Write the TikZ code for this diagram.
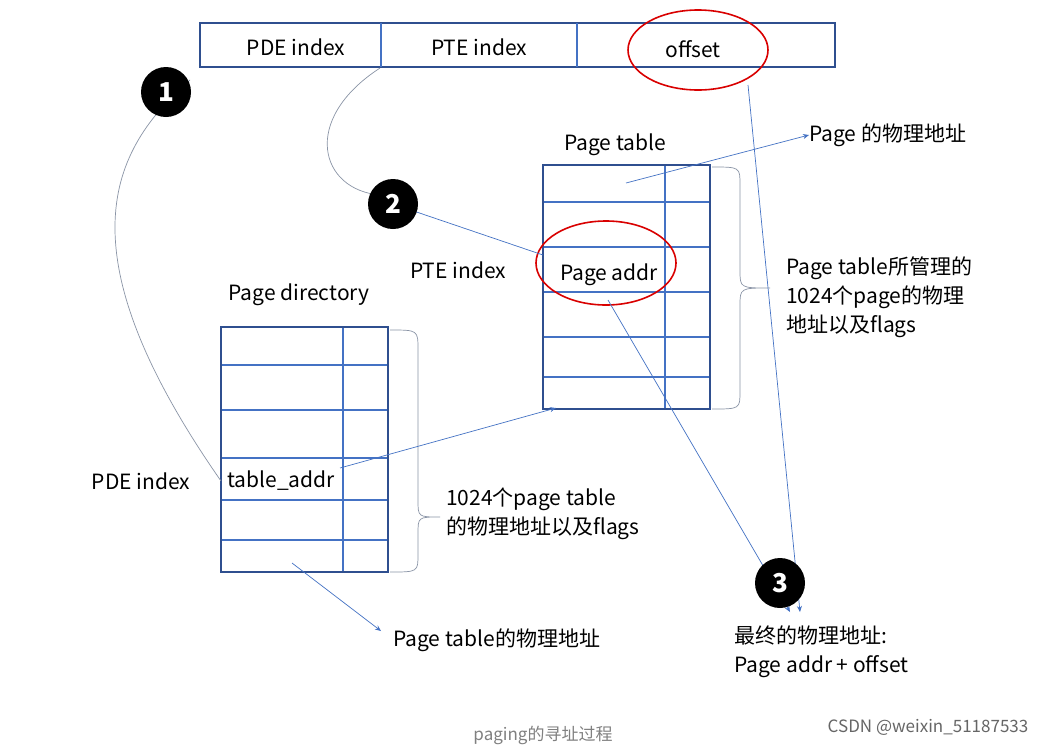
\documentclass[tikz,border=0pt]{standalone}
\usepackage{fontspec}
\setmainfont{Noto Sans CJK SC}
\usetikzlibrary{arrows.meta}
\definecolor{dk}{HTML}{2F4F8F}
\definecolor{lb}{HTML}{4472C4}
\definecolor{gl}{HTML}{8A94A6}
\tikzset{
 lbl/.style={font=\fontsize{21}{29}\selectfont,inner sep=0pt},
 lbll/.style={lbl,anchor=west,align=left},
 circ/.style={circle,fill=black,text=white,minimum size=50pt,inner sep=0pt,font=\fontsize{26}{26}\selectfont\bfseries},
 conn/.style={lb,line width=0.7pt},
 arr/.style={conn,-{Stealth[length=6pt,width=5pt]}},
 redell/.style={red!85!black,line width=1.6pt},
 brc/.style={gl,line width=0.7pt}
}
\begin{document}
\begin{tikzpicture}[x=1pt,y=-1pt]
\useasboundingbox (0,0) rectangle (1059,747);
\fill[white] (0,0) rectangle (1059,747);
% top bar
\draw[dk,line width=1.6pt] (200,23) rectangle (835,67);
\draw[lb,line width=1.2pt] (381,23)--(381,67) (577,23)--(577,67);
\node[lbl] (pde) at (296,47) {PDE index};
\node[lbl] (pte) at (479,47) {PTE index};
\node[lbl] (off) at (693,49) {offset};
\draw[redell] (698,50) ellipse (70 and 40);
% page table
\foreach \y in {202,247,292,337,377} \draw[lb,line width=1.2pt] (543,\y)--(710,\y);
\draw[lb,line width=1.2pt] (665,165)--(665,409);
\draw[dk,line width=1.8pt] (543,165) rectangle (710,409);
\node[lbl] (ptl) at (615,145) {Page table};
\node[lbl] (paddr) at (609,275) {Page addr};
\draw[redell] (606,263) ellipse (70 and 42);
% page directory
\foreach \y in {365,410,458,500,540} \draw[lb,line width=1.2pt] (221,\y)--(388,\y);
\draw[lb,line width=1.2pt] (343,327)--(343,572);
\draw[dk,line width=1.8pt] (221,327) rectangle (388,572);
\node[lbl] (pdl) at (299,295) {Page directory};
\node[lbl] (taddr) at (281,481) {table\_addr};
\node[lbl] (pdei) at (141,481) {PDE index};
\node[lbl] (ptei) at (458,270) {PTE index};
% braces
\draw[brc] (712,167) .. controls (740,167) .. (740,185) -- (740,270) .. controls (740,288) .. (770,288) .. controls (740,288) .. (740,306) -- (740,391) .. controls (740,409) .. (712,409);
\draw[brc] (390,330) .. controls (418,330) .. (418,350) -- (418,500) .. controls (418,517) .. (440,517) .. controls (418,517) .. (418,534) -- (418,554) .. controls (418,572) .. (390,572);
% texts
\node[lbll] (t1) at (786,297) {Page table所管理的\\1024个page的物理\\地址以及flags};
\node[lbll] (t2) at (446,514) {1024个page table\\的物理地址以及flags};
\node[lbll] (t3) at (809,135) {Page 的物理地址};
\node[lbll] (t4) at (393,640) {Page table的物理地址};
\node[lbll] (t5) at (734,652) {最终的物理地址:\\Page addr + offset};
\node[lbl,text=gray,font=\fontsize{17}{20}\selectfont] (cap) at (543,735) {paging的寻址过程};
\node[lbl,text=gray!80!black,font=\fontsize{17}{20}\selectfont] (csdn) at (928,727) {CSDN @weixin\_51187533};
% connectors
\coordinate (a1) at (190,80);
\coordinate (a2) at (221,481);
\draw[gl,line width=0.7pt] (a1) .. controls (110,150) and (60,250) .. (a2);
\draw[gl,line width=0.7pt] (380,68) .. controls (300,120) and (320,190) .. (380,195);
\draw[conn] (393,204) -- (543,255);
\coordinate (p1) at (626,183);
\draw[arr] (p1) -- (t3.west);
\coordinate (p2) at (340,468);
\draw[arr] (p2) -- (556,408);
\coordinate (p3) at (292,563);
\draw[arr] (p3) -- (381,631);
\coordinate (p4) at (608,300);
\draw[arr] (p4) -- (790,612);
\coordinate (p5) at (748,85);
\draw[arr] (p5) -- (800,612);
% circles
\node[circ] (c1) at (166,92) {1};
\node[circ] (c2) at (393,204) {2};
\node[circ] (c3) at (780,583) {3};
\end{tikzpicture}
\end{document}
